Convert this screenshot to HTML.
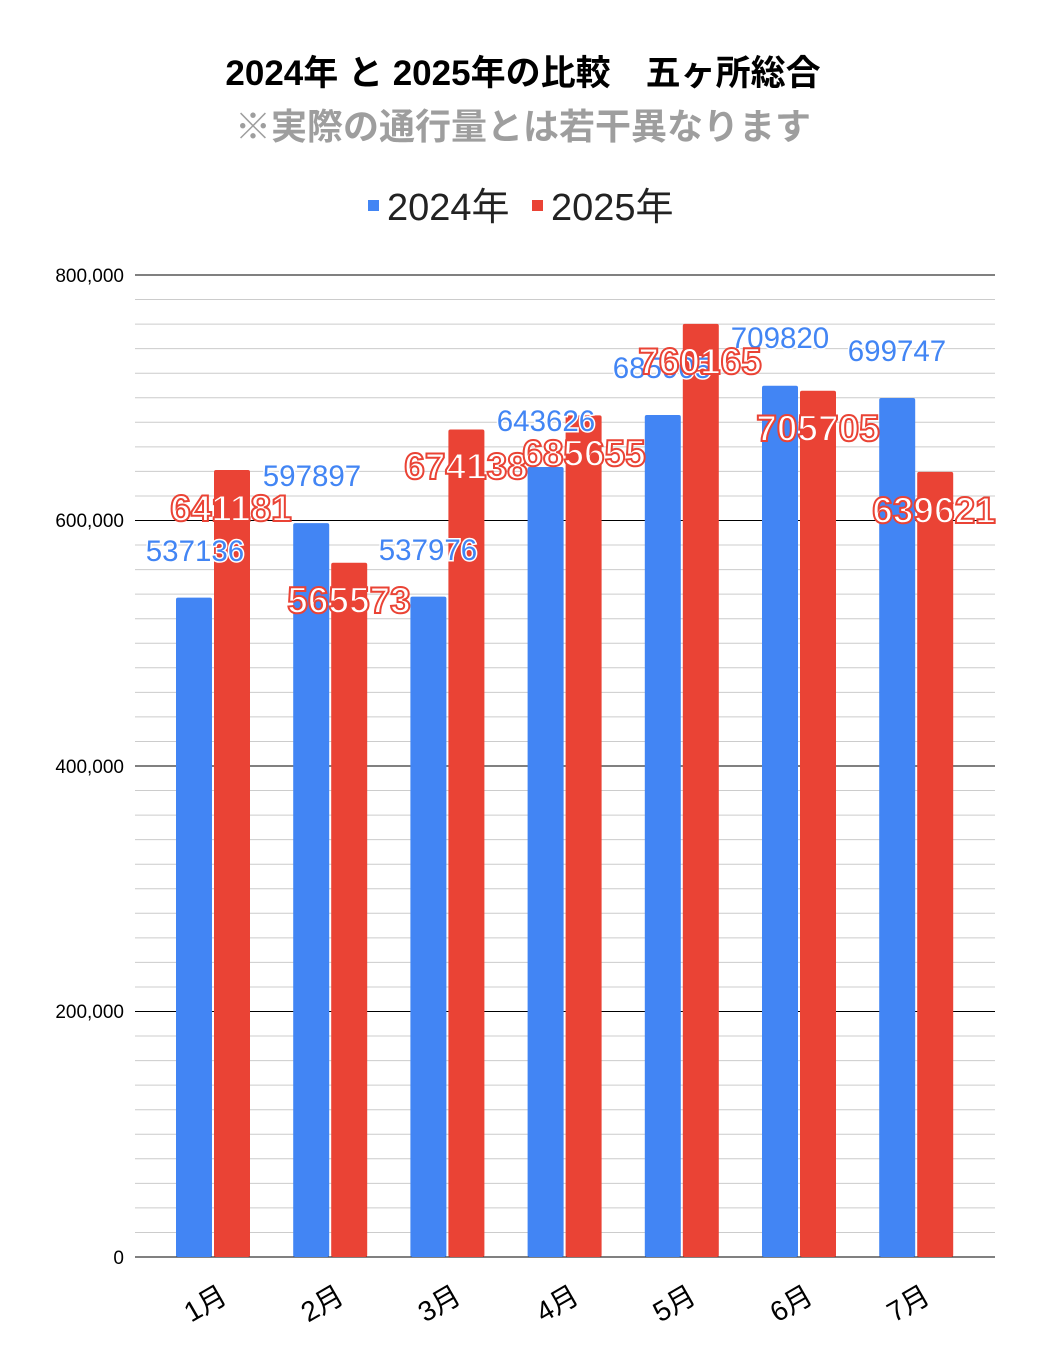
<!DOCTYPE html>
<html><head><meta charset="utf-8"><style>body{margin:0;background:#fff}svg{display:block}</style></head><body>
<svg width="1047" height="1364" xmlns="http://www.w3.org/2000/svg" font-family="'Liberation Sans','Noto Sans CJK JP',sans-serif">
<rect width="1047" height="1364" fill="#fff"/>
<text x="523" y="85" text-anchor="middle" font-size="35" font-weight="bold" fill="#000">2024年 と 2025年の比較　五ヶ所総合</text>
<text x="523" y="139" text-anchor="middle" font-size="36" font-weight="bold" fill="#9e9e9e">※実際の通行量とは若干異なります</text>
<rect x="368" y="200" width="11" height="11" fill="#4285f4"/>
<text x="387" y="220" font-size="38" fill="#222">2024年</text>
<rect x="532" y="200" width="11" height="11" fill="#ea4335"/>
<text x="551" y="220" font-size="38" fill="#222">2025年</text>
<path stroke="#ccc" stroke-width="1" fill="none" d="M135 1232.45H995M135 1207.9H995M135 1183.35H995M135 1158.8H995M135 1134.25H995M135 1109.7H995M135 1085.15H995M135 1060.6H995M135 1036.05H995M135 986.95H995M135 962.4H995M135 937.85H995M135 913.3H995M135 888.75H995M135 864.2H995M135 839.65H995M135 815.1H995M135 790.55H995M135 741.45H995M135 716.9H995M135 692.35H995M135 667.8H995M135 643.25H995M135 618.7H995M135 594.15H995M135 569.6H995M135 545.05H995M135 495.95H995M135 471.4H995M135 446.85H995M135 422.3H995M135 397.75H995M135 373.2H995M135 348.65H995M135 324.1H995M135 299.55H995"/>
<path stroke="#000" stroke-width="1" fill="none" d="M135 1257H995M135 1011.5H995M135 766H995M135 520.5H995M135 275H995"/>
<g font-size="19" fill="#000" text-anchor="end">
<text x="124" y="1264">0</text><text x="124" y="1018">200,000</text><text x="124" y="773">400,000</text><text x="124" y="527">600,000</text><text x="124" y="282">800,000</text>
</g>
<g fill="#4285f4">
<rect x="176" y="597.66" width="36" height="659.34" rx="2"/>
<rect x="293.2" y="523.08" width="36" height="733.92" rx="2"/>
<rect x="410.4" y="596.63" width="36" height="660.37" rx="2"/>
<rect x="527.6" y="466.95" width="36" height="790.05" rx="2"/>
<rect x="644.8" y="415.05" width="36" height="841.95" rx="2"/>
<rect x="762" y="385.7" width="36" height="871.3" rx="2"/>
<rect x="879.2" y="398.06" width="36" height="858.94" rx="2"/>
</g>
<g fill="#ea4335">
<rect x="214" y="469.95" width="36" height="787.05" rx="2"/>
<rect x="331.2" y="562.76" width="36" height="694.24" rx="2"/>
<rect x="448.4" y="429.5" width="36" height="827.5" rx="2"/>
<rect x="565.6" y="415.36" width="36" height="841.64" rx="2"/>
<rect x="682.8" y="323.9" width="36" height="933.1" rx="2"/>
<rect x="800" y="390.75" width="36" height="866.25" rx="2"/>
<rect x="917.2" y="471.86" width="36" height="785.14" rx="2"/>
</g>
<g font-size="28" fill="#000" text-anchor="middle">
<text transform="translate(210,1312) rotate(-30)">1月</text>
<text transform="translate(327,1312) rotate(-30)">2月</text>
<text transform="translate(444,1312) rotate(-30)">3月</text>
<text transform="translate(562,1312) rotate(-30)">4月</text>
<text transform="translate(679,1312) rotate(-30)">5月</text>
<text transform="translate(796,1312) rotate(-30)">6月</text>
<text transform="translate(913,1312) rotate(-30)">7月</text>
</g>
<g font-size="29.5" fill="#4285f4" stroke="#fff" stroke-width="3" paint-order="stroke" text-anchor="middle">
<text x="195" y="561">537136</text>
<text x="312" y="486">597897</text>
<text x="428" y="560">537976</text>
<text x="546" y="431">643626</text>
<text x="662" y="378">685905</text>
<text x="780" y="348">709820</text>
<text x="897" y="361">699747</text>
</g>
<g font-size="37" font-weight="bold" fill="#fff" stroke="#ea4335" stroke-width="2" text-anchor="middle">
<text x="231" y="521">641181</text>
<text x="349" y="613">565573</text>
<text x="466" y="479">674138</text>
<text x="584" y="466">685655</text>
<text x="700" y="374">760165</text>
<text x="818" y="441">705705</text>
<text x="934" y="523">639621</text>
</g>
</svg>
</body></html>
